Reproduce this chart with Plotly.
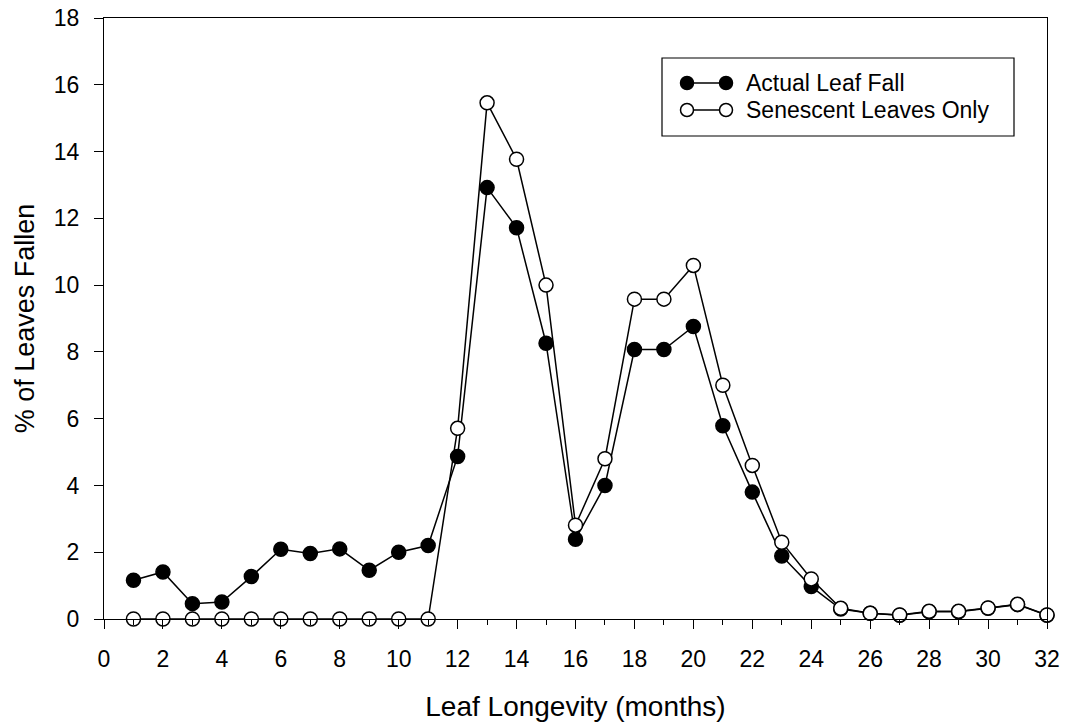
import plotly.graph_objects as go

months = list(range(1, 33))
actual_leaf_fall = [1.16, 1.41, 0.46, 0.51, 1.27, 2.09, 1.96, 2.10, 1.46, 2.00, 2.20,
                    4.87, 12.92, 11.72, 8.26, 2.39, 4.00, 8.07, 8.07, 8.76, 5.79, 3.80,
                    1.89, 0.97, 0.30, 0.17, 0.11, 0.22, 0.22, 0.32, 0.43, 0.11]
senescent_only = [0, 0, 0, 0, 0, 0, 0, 0, 0, 0, 0,
                  5.71, 15.46, 13.77, 10.00, 2.81, 4.80, 9.58, 9.58, 10.59, 7.00, 4.60,
                  2.30, 1.20, 0.32, 0.17, 0.12, 0.23, 0.23, 0.33, 0.44, 0.12]
x_ticks = list(range(0, 33, 2))
y_ticks = list(range(0, 19, 2))
series_names = ["Actual Leaf Fall", "Senescent Leaves Only"]

font = "Liberation Sans, Arial, sans-serif"

fig = go.Figure()
fig.add_trace(go.Scatter(
    x=months, y=actual_leaf_fall, mode="lines+markers", name=series_names[0],
    line=dict(color="black", width=1.5),
    marker=dict(symbol="circle", size=14, color="black", line=dict(color="black", width=1.5)),
    cliponaxis=False, showlegend=False))
fig.add_trace(go.Scatter(
    x=months, y=senescent_only, mode="lines+markers", name=series_names[1],
    line=dict(color="black", width=1.5),
    marker=dict(symbol="circle", size=14, color="white", line=dict(color="black", width=1.5)),
    cliponaxis=False, showlegend=False))

# custom legend (paper coordinates)
W, H = 1067, 722
L, R, T, B = 104, 20, 18, 103
pw, ph = W - L - R, H - T - B
def px(x): return (x - L) / pw
def py(y): return (H - B - y) / ph

shapes = [dict(type="rect", xref="paper", yref="paper",
               x0=px(662), x1=px(1014), y0=py(136), y1=py(58),
               line=dict(color="black", width=1.2), fillcolor="white", layer="above")]
annotations = []
for i, (name, fill) in enumerate(zip(series_names, ["black", "white"])):
    yc = 83 + i * 27
    shapes.append(dict(type="line", xref="paper", yref="paper",
                       x0=px(687), x1=px(726), y0=py(yc), y1=py(yc),
                       line=dict(color="black", width=1.5), layer="above"))
    for xc in (687, 726):
        r = 6.5
        shapes.append(dict(type="circle", xref="paper", yref="paper",
                           x0=px(xc - r), x1=px(xc + r), y0=py(yc + r), y1=py(yc - r),
                           fillcolor=fill, line=dict(color="black", width=1.5), layer="above"))
    annotations.append(dict(xref="paper", yref="paper", x=px(744), y=py(yc),
                            text=name, showarrow=False, xanchor="left", yanchor="middle",
                            font=dict(family=font, size=23, color="black")))

fig.update_layout(
    width=W, height=H,
    margin=dict(l=L, r=R, t=T, b=B),
    paper_bgcolor="white", plot_bgcolor="white",
    font=dict(family=font, size=23, color="black"),
    shapes=shapes, annotations=annotations,
    xaxis=dict(range=[0, 32], tickvals=x_ticks, ticks="outside", ticklen=9, tickwidth=1.3,
               tickcolor="black", showline=True, linecolor="black", linewidth=1.3, mirror=True,
               showgrid=False, zeroline=False, ticklabelstandoff=10, automargin=False,
               minor=dict(ticks="outside", ticklen=5, dtick=1, tickcolor="black", tickwidth=1.3),
               title=dict(text="Leaf Longevity (months)", font=dict(size=28), standoff=26),
               tickfont=dict(size=23)),
    yaxis=dict(range=[0, 18], tickvals=y_ticks, ticks="outside", ticklen=9, tickwidth=1.3,
               tickcolor="black", showline=True, linecolor="black", linewidth=1.3, mirror=True,
               showgrid=False, zeroline=False, ticklabelstandoff=10, automargin=False,
               title=dict(text="% of Leaves Fallen", font=dict(size=27), standoff=11),
               tickfont=dict(size=23)),
)

fig.write_html("out.html")
